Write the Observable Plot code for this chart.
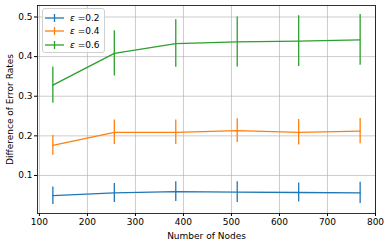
<!DOCTYPE html>
<html>
<head>
<meta charset="utf-8">
<script src="https://cdn.jsdelivr.net/npm/d3@7"></script>
<script src="https://cdn.jsdelivr.net/npm/@observablehq/plot@0.6"></script>
<style>
  body { margin: 0; background: #fff; }
  #wrap { position: relative; width: 387px; height: 245px; font-family: "DejaVu Sans", sans-serif; }
  #legend { position: absolute; left: 42px; top: 8px; width: 61px; height: 43px; border: 1px solid #d0d0d0; border-radius: 3px; background: rgba(255,255,255,0.8); font-size: 9px; }
  .row { position: absolute; left: 0; width: 61px; height: 13px; display: flex; align-items: center; white-space: nowrap; }
  .row svg { margin-left: 2px; flex: 0 0 19px; }
  .row span { margin-left: 6px; color: #000; flex: 0 0 auto; }
</style>
</head>
<body>
<div id="wrap"></div>
<script>
const nodes = [128, 256, 384, 512, 640, 768];
const seriesNames = ["0.2", "0.4", "0.6"];
const colors = ["#1f77b4", "#ff7f0e", "#2ca02c"];
const mean02 = [0.049, 0.056, 0.059, 0.058, 0.057, 0.056];
const err02  = [0.022, 0.024, 0.025, 0.026, 0.024, 0.027];
const mean04 = [0.176, 0.209, 0.209, 0.213, 0.209, 0.212];
const err04  = [0.025, 0.031, 0.031, 0.030, 0.032, 0.032];
const mean06 = [0.328, 0.408, 0.433, 0.437, 0.439, 0.442];
const err06  = [0.046, 0.057, 0.060, 0.063, 0.064, 0.064];
const xTicks = [100, 200, 300, 400, 500, 600, 700, 800];
const yTicks = [0.1, 0.2, 0.3, 0.4, 0.5];

const means = [mean02, mean04, mean06];
const errs = [err02, err04, err06];
const data = [];
seriesNames.forEach((s, si) => nodes.forEach((n, i) => data.push({series: s, x: n, y: means[si][i], lo: means[si][i] - errs[si][i], hi: means[si][i] + errs[si][i]})));

const colorScale = {domain: seriesNames, range: colors};

const chart = Plot.plot({
  width: 387,
  height: 245,
  marginLeft: 37,
  marginRight: 12,
  marginTop: 5,
  marginBottom: 32,
  style: {fontFamily: "DejaVu Sans, sans-serif", fontSize: "9px", background: "white", color: "black"},
  x: {domain: [96, 800]},
  y: {domain: [0.004, 0.529]},
  color: colorScale,
  marks: [
    Plot.gridX(xTicks, {stroke: "#b0b0b0", strokeOpacity: 0.8, strokeWidth: 0.8}),
    Plot.gridY(yTicks, {stroke: "#b0b0b0", strokeOpacity: 0.8, strokeWidth: 0.8}),
    Plot.axisX(xTicks, {tickSize: 3, tickPadding: 2, fontSize: 9, label: "Number of Nodes", labelAnchor: "center", labelArrow: "none", labelOffset: 25}),
    Plot.axisY(yTicks, {tickSize: 3, tickPadding: 2, fontSize: 9, tickFormat: ".1f", label: "Difference of Error Rates", labelAnchor: "center", labelArrow: "none", labelOffset: 31}),
    Plot.line(data, {x: "x", y: "y", z: "series", stroke: "series", strokeWidth: 1.3}),
    Plot.ruleX(data, {x: "x", y1: "lo", y2: "hi", stroke: "series", strokeWidth: 1.3}),
    Plot.frame({stroke: "black", strokeWidth: 0.8})
  ]
});

const wrap = document.getElementById("wrap");
wrap.appendChild(chart);

const legend = document.createElement("div");
legend.id = "legend";
seriesNames.forEach((s, i) => {
  const row = document.createElement("div");
  row.className = "row";
  row.style.top = (2 + i * 13.5) + "px";
  row.innerHTML = `<svg width="19" height="10"><line x1="0" x2="19" y1="5" y2="5" stroke="${colors[i]}" stroke-width="1.3"/><line x1="9.5" x2="9.5" y1="1" y2="9" stroke="${colors[i]}" stroke-width="1.3"/></svg><span><i>ε</i> =${s}</span>`;
  legend.appendChild(row);
});
wrap.appendChild(legend);
</script>
</body>
</html>
